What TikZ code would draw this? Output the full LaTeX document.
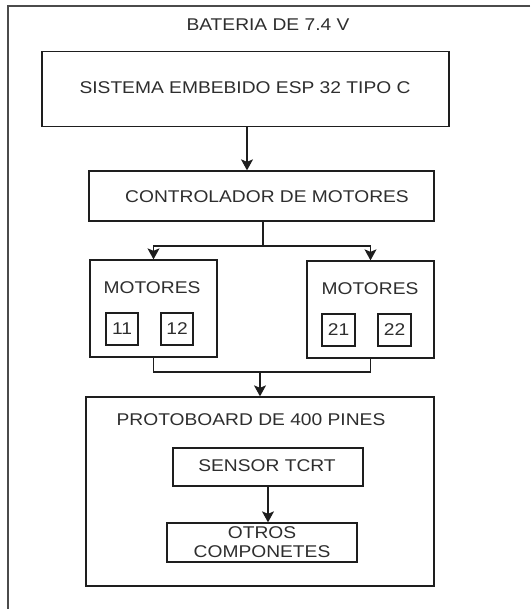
\documentclass[tikz,border=0pt]{standalone}
\usepackage{fontspec}
\setmainfont{Liberation Sans}[FakeStretch=1.13]
\usetikzlibrary{arrows.meta}
\definecolor{txt}{HTML}{2E2E2E}
\definecolor{ln}{HTML}{1E1E1E}
\begin{document}
\begin{tikzpicture}[x=1pt,y=-1pt,
  box/.style={draw=ln,line width=1.3pt,rectangle,inner sep=0pt},
  lbl/.style={text=txt,font=\fontsize{17}{19}\selectfont,inner sep=0pt,align=center},
  conn/.style={draw=ln,line width=1.3pt},
  arr/.style={conn,-{Stealth[length=11pt,width=12pt,inset=2.5pt]}}]
\useasboundingbox (0,0) rectangle (530,609);
\fill[white] (0,0) rectangle (530,609);
% outer frame (top and left edges visible)
\draw[draw=ln!80,line width=1.3pt] (530,6) -- (8,6) -- (8,609);
\node[lbl] (bat) at (268,25) {BATERIA DE 7.4 V};
% ESP
\node[box,minimum width=407pt,minimum height=75pt] (esp) at (245.5,89) {};
\node[lbl] (espl) at (245,88) {SISTEMA EMBEBIDO ESP 32 TIPO C};
% controller
\node[box,minimum width=345pt,minimum height=50pt] (ctrl) at (261.5,196) {};
\node[lbl] (ctrll) at (267,197) {CONTROLADOR DE MOTORES};
% motors
\node[box,minimum width=127pt,minimum height=97pt] (m1) at (153.5,308.5) {};
\node[lbl] (m1l) at (152,288) {MOTORES};
\node[box,lbl,draw=ln,minimum width=32pt,minimum height=32pt] (b11) at (122,329) {11};
\node[box,lbl,draw=ln,minimum width=32pt,minimum height=32pt] (b12) at (177,329) {12};
\node[box,minimum width=127pt,minimum height=97pt] (m2) at (370.5,309.5) {};
\node[lbl] (m2l) at (370,289) {MOTORES};
\node[box,lbl,draw=ln,minimum width=33pt,minimum height=32pt] (b21) at (338.5,330) {21};
\node[box,lbl,draw=ln,minimum width=33pt,minimum height=32pt] (b22) at (394.5,330) {22};
% protoboard
\node[box,minimum width=348pt,minimum height=189pt] (proto) at (260,491.5) {};
\node[lbl] (protol) at (251,420) {PROTOBOARD DE 400 PINES};
\node[box,minimum width=190pt,minimum height=38pt] (sens) at (268,467) {};
\node[lbl] (sensl) at (267,466) {SENSOR TCRT};
\node[box,lbl,draw=ln,minimum width=190pt,minimum height=39pt] (otros) at (262,542.5) {OTROS\\COMPONETES};
% connectors
\coordinate (split) at (263,246);
\coordinate (join) at (260,372);
\draw[arr] (247,127) coordinate (espout) (espout) -- (espout |- ctrl.north);
\draw[conn] (ctrl.south -| split) -- (split);
\draw[arr] (split) -| (m1.north);
\draw[arr] (split) -| (m2.north);
\draw[conn] (m1.south) |- (join) -| (m2.south);
\draw[arr] (join) -- (join |- proto.north);
\draw[arr] (sens.south) -- (sens.south |- otros.north);
\end{tikzpicture}
\end{document}
